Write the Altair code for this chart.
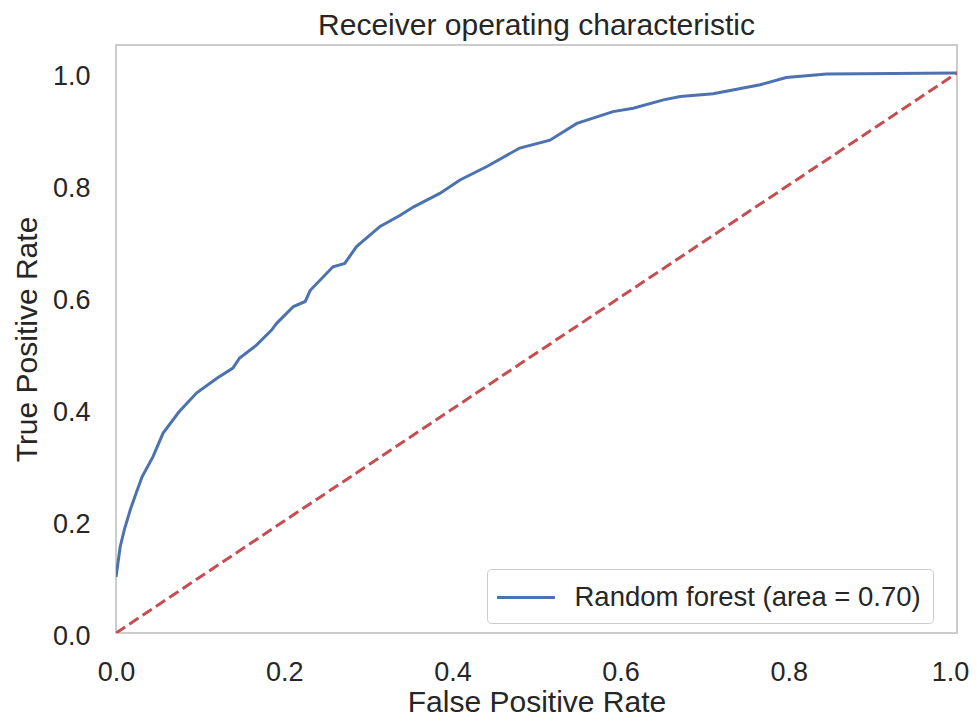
import altair as alt
import pandas as pd

# ROC curve
fpr = [0.000, 0.005, 0.010, 0.017, 0.024, 0.031, 0.044, 0.056, 0.075, 0.096,
       0.120, 0.139, 0.147, 0.167, 0.185, 0.191, 0.211, 0.225, 0.231, 0.258,
       0.272, 0.286, 0.314, 0.338, 0.354, 0.385, 0.409, 0.441, 0.480, 0.516,
       0.548, 0.591, 0.615, 0.651, 0.671, 0.710, 0.766, 0.797, 0.845, 0.924,
       1.000]
tpr = [0.100, 0.154, 0.185, 0.220, 0.250, 0.279, 0.315, 0.357, 0.395, 0.429,
       0.455, 0.473, 0.491, 0.514, 0.541, 0.553, 0.583, 0.592, 0.612, 0.654,
       0.660, 0.690, 0.726, 0.746, 0.761, 0.785, 0.809, 0.833, 0.866, 0.880,
       0.910, 0.931, 0.937, 0.952, 0.958, 0.963, 0.979, 0.992, 0.998, 0.999,
       1.000]
series_name = "Random forest (area = 0.70)"

diag_x = [0.0, 1.0]
diag_y = [0.0, 1.0]

tick_vals = [0.0, 0.2, 0.4, 0.6, 0.8, 1.0]

FONT = "Liberation Sans"
TXT = "#262626"

roc_df = pd.DataFrame({"fpr": fpr, "tpr": tpr, "series": series_name,
                       "order": list(range(len(fpr)))})
diag_df = pd.DataFrame({"fpr": diag_x, "tpr": diag_y})

xscale = alt.Scale(domain=[0, 1], nice=False, zero=False)
yscale = alt.Scale(domain=[0, 1.05], nice=False, zero=False)

xaxis = alt.Axis(title="False Positive Rate", values=tick_vals, format=".1f",
                 labelPadding=26, titlePadding=2, labelFlush=False,
                 titleFontSize=30,
                 labelOffset={"condition": {"test": "datum.value >= 1", "value": -7},
                              "value": 0})
yaxis = alt.Axis(title="True Positive Rate", values=tick_vals, format=".1f",
                 labelPadding=26, titlePadding=10, labelBaseline="alphabetic",
                 labelOffset=11, titleFontSize=30)

diag = alt.Chart(diag_df).mark_line(
    color="#C44E52", strokeWidth=3, strokeDash=[11, 5], clip=True
).encode(
    x=alt.X("fpr:Q", scale=xscale, axis=xaxis),
    y=alt.Y("tpr:Q", scale=yscale, axis=yaxis),
)

roc = alt.Chart(roc_df).mark_line(strokeWidth=3, clip=True).encode(
    x=alt.X("fpr:Q", scale=xscale, axis=xaxis),
    y=alt.Y("tpr:Q", scale=yscale, axis=yaxis),
    order="order:Q",
    color=alt.Color("series:N", scale=alt.Scale(range=["#4C72B0"]),
                    legend=alt.Legend(title=None, orient="none",
                                      legendX=371, legendY=524)),
)

chart = alt.layer(roc, diag).properties(
    width=841,
    height=588,
    title=alt.Title("Receiver operating characteristic", fontSize=30,
                    font=FONT, color=TXT, fontWeight="normal",
                    baseline="alphabetic", offset=-20, anchor="middle",
                    frame="group"),
    autosize=alt.AutoSizeParams(type="none"),
    padding={"left": 108, "top": 37, "right": 12, "bottom": 84},
).configure_view(
    stroke="#cccccc", strokeWidth=2
).configure_axis(
    grid=False, domain=False, ticks=False, tickSize=0,
    labelFont=FONT, labelFontSize=27, labelColor=TXT,
    titleFont=FONT, titleColor=TXT, titleFontWeight="normal",
).configure_legend(
    padding=12,
    strokeColor="#cccccc", fillColor="white", cornerRadius=4,
    symbolType="M-1.93,0H1.93", symbolSize=900, symbolStrokeWidth=3,
    symbolOffset=10.5, labelOffset=32,
    labelFont=FONT, labelFontSize=27.5, labelColor=TXT, labelLimit=600,
)

chart.save("out.html", embed_options={"renderer": "svg", "actions": False})
